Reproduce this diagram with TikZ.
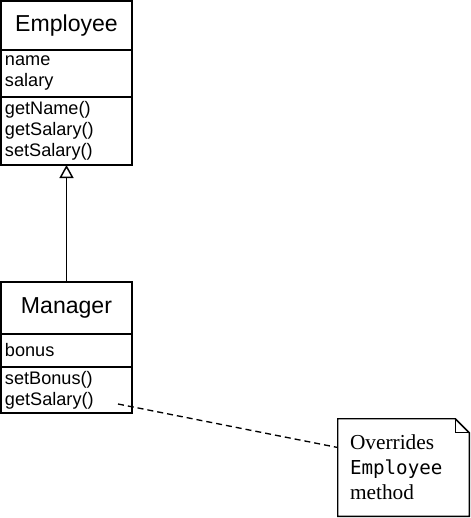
\documentclass[tikz,border=0pt]{standalone}
\usepackage{fontspec}
\setmainfont{Liberation Serif}
\setsansfont{Liberation Sans}
\setmonofont{DejaVu Sans Mono}
\usetikzlibrary{positioning,arrows.meta}

\tikzset{
	classbox/.style={draw, line width=1.1pt, outer sep=0pt, minimum width=98.25pt, inner sep=0pt},
	classname/.style={classbox, font=\sffamily\fontsize{17.3}{20}\selectfont},
	members/.style={classbox, inner xsep=3pt, text width=92.25pt, align=left, font=\sffamily\fontsize{13.6}{15.75}\selectfont},
	notetext/.style={inner xsep=9pt, text width=80.25pt, minimum height=72.75pt, align=left, font=\fontsize{16}{18.75}\selectfont},
	inherits/.style={line width=1.1pt, -{Triangle[open, length=9.75pt, width=10.5pt]}},
	notelink/.style={line width=1pt, dash pattern=on 4.5pt off 3pt}
}

\begin{document}
\begin{tikzpicture}[x=0.75pt, y=-0.75pt]
	\useasboundingbox (0,0) rectangle (471,518);

	%EMPLOYEE
	\node[classname, minimum height=36.75pt] (emp) at (66.5,25.5) {Employee};
	\node[members, minimum height=35.25pt, below=0pt of emp] (empattr) {name\\salary};
	\node[members, minimum height=51pt, below=0pt of empattr] (empops) {getName()\\getSalary()\\setSalary()};

	%MANAGER
	\node[classname, minimum height=39pt] (mgr) at (66.5,308) {Manager};
	\node[members, minimum height=24.75pt, below=0pt of mgr] (mgrattr) {bonus};
	\node[members, minimum height=34.5pt, below=0pt of mgrattr] (mgrops) {setBonus()\\getSalary()};

	%GENERALIZATION
	\draw[inherits] (mgr.north) -- (empops.south);

	%NOTE
	\node[notetext] (note) at (403.5,467.5) {Overrides\\{\ttfamily\fontsize{14.4}{18.75}\selectfont Employee}\\method};
	\draw[line width=1.1pt] (note.north west) -- ([xshift=-10.5pt]note.north east) -- ([yshift=-10.5pt]note.north east) -- (note.south east) -- (note.south west) -- cycle;
	\draw[line width=1.1pt] ([xshift=-10.5pt]note.north east) |- ([yshift=-10.5pt]note.north east); %fold
	\coordinate (getsal) at (118,404);
	\coordinate (notein) at ([yshift=15pt]note.west);
	\draw[notelink] (getsal) -- (notein);
\end{tikzpicture}
\end{document}
